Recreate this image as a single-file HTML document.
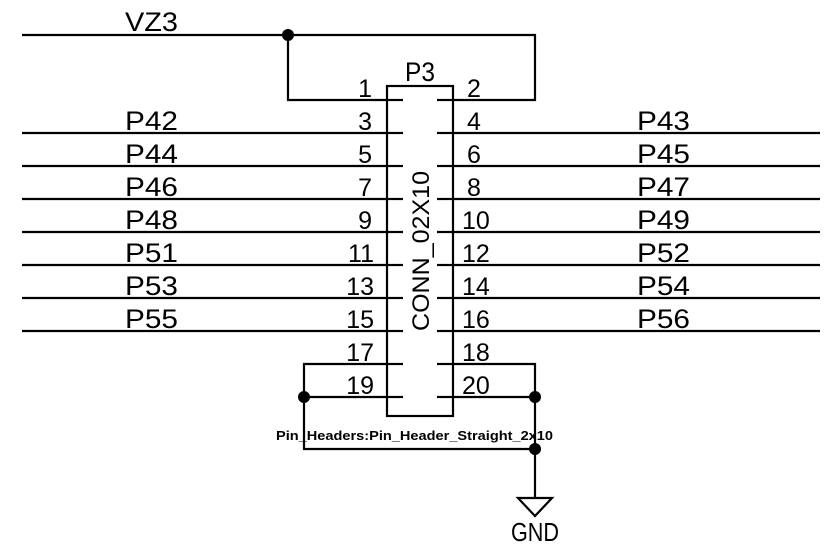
<!DOCTYPE html>
<html><head><style>html,body{margin:0;padding:0;background:#fff;}svg{display:block}</style></head>
<body>
<svg width="840" height="553" viewBox="0 0 840 553" xmlns="http://www.w3.org/2000/svg" font-family="Liberation Sans, sans-serif" fill="#000">
<g stroke="#000" stroke-width="2.2" fill="none">
<rect x="387" y="86" width="66" height="330"/>
<polyline points="22,35 535,35 535,100 453,100"/>
<polyline points="288,35 288,100 387,100"/>
<line x1="22" y1="133" x2="387" y2="133"/><line x1="453" y1="133" x2="820" y2="133"/>
<line x1="22" y1="166" x2="387" y2="166"/><line x1="453" y1="166" x2="820" y2="166"/>
<line x1="22" y1="199" x2="387" y2="199"/><line x1="453" y1="199" x2="820" y2="199"/>
<line x1="22" y1="232" x2="387" y2="232"/><line x1="453" y1="232" x2="820" y2="232"/>
<line x1="22" y1="265" x2="387" y2="265"/><line x1="453" y1="265" x2="820" y2="265"/>
<line x1="22" y1="298" x2="387" y2="298"/><line x1="453" y1="298" x2="820" y2="298"/>
<line x1="22" y1="331" x2="387" y2="331"/><line x1="453" y1="331" x2="820" y2="331"/>
<polyline points="387,364 304,364 304,449 535,449"/>
<line x1="304" y1="397" x2="387" y2="397"/>
<polyline points="453,364 535,364 535,498"/>
<line x1="453" y1="397" x2="535" y2="397"/>
<polygon points="518,498 552,498 535,516"/>
<g>
<line x1="387" y1="100" x2="403" y2="100"/><line x1="437" y1="100" x2="453" y2="100"/>
<line x1="387" y1="133" x2="403" y2="133"/><line x1="437" y1="133" x2="453" y2="133"/>
<line x1="387" y1="166" x2="403" y2="166"/><line x1="437" y1="166" x2="453" y2="166"/>
<line x1="387" y1="199" x2="403" y2="199"/><line x1="437" y1="199" x2="453" y2="199"/>
<line x1="387" y1="232" x2="403" y2="232"/><line x1="437" y1="232" x2="453" y2="232"/>
<line x1="387" y1="265" x2="403" y2="265"/><line x1="437" y1="265" x2="453" y2="265"/>
<line x1="387" y1="298" x2="403" y2="298"/><line x1="437" y1="298" x2="453" y2="298"/>
<line x1="387" y1="331" x2="403" y2="331"/><line x1="437" y1="331" x2="453" y2="331"/>
<line x1="387" y1="364" x2="403" y2="364"/><line x1="437" y1="364" x2="453" y2="364"/>
<line x1="387" y1="397" x2="403" y2="397"/><line x1="437" y1="397" x2="453" y2="397"/>
</g>
</g>
<circle cx="288" cy="35" r="6"/><circle cx="304" cy="397" r="6"/><circle cx="535" cy="397" r="6"/><circle cx="535" cy="449" r="6"/>
<g font-size="27">
<text x="125" y="31" textLength="53" lengthAdjust="spacingAndGlyphs">VZ3</text>
<text x="405" y="81" textLength="30" lengthAdjust="spacingAndGlyphs">P3</text>
<text x="125" y="130" textLength="53" lengthAdjust="spacingAndGlyphs">P42</text>
<text x="125" y="163" textLength="53" lengthAdjust="spacingAndGlyphs">P44</text>
<text x="125" y="196" textLength="53" lengthAdjust="spacingAndGlyphs">P46</text>
<text x="125" y="229" textLength="53" lengthAdjust="spacingAndGlyphs">P48</text>
<text x="125" y="262" textLength="53" lengthAdjust="spacingAndGlyphs">P51</text>
<text x="125" y="295" textLength="53" lengthAdjust="spacingAndGlyphs">P53</text>
<text x="125" y="328" textLength="53" lengthAdjust="spacingAndGlyphs">P55</text>
<text x="637" y="130" textLength="53" lengthAdjust="spacingAndGlyphs">P43</text>
<text x="637" y="163" textLength="53" lengthAdjust="spacingAndGlyphs">P45</text>
<text x="637" y="196" textLength="53" lengthAdjust="spacingAndGlyphs">P47</text>
<text x="637" y="229" textLength="53" lengthAdjust="spacingAndGlyphs">P49</text>
<text x="637" y="262" textLength="53" lengthAdjust="spacingAndGlyphs">P52</text>
<text x="637" y="295" textLength="53" lengthAdjust="spacingAndGlyphs">P54</text>
<text x="637" y="328" textLength="53" lengthAdjust="spacingAndGlyphs">P56</text>
</g>
<g font-size="25" text-anchor="end">
<text x="372" y="97">1</text><text x="372" y="130">3</text><text x="372" y="163">5</text><text x="372" y="196">7</text><text x="372" y="229">9</text>
<text x="374" y="262">11</text><text x="374" y="295">13</text><text x="374" y="328">15</text><text x="374" y="361">17</text><text x="374" y="394">19</text>
</g>
<g font-size="25">
<text x="467" y="97">2</text><text x="467" y="130">4</text><text x="467" y="163">6</text><text x="467" y="196">8</text>
<text x="462" y="229">10</text><text x="462" y="262">12</text><text x="462" y="295">14</text><text x="462" y="328">16</text><text x="462" y="361">18</text><text x="462" y="394">20</text>
</g>
<text transform="translate(429,331) rotate(-90)" font-size="24" textLength="160" lengthAdjust="spacingAndGlyphs">CONN_02X10</text>
<text x="276" y="440" font-size="13" font-weight="bold" textLength="277" lengthAdjust="spacingAndGlyphs">Pin_Headers:Pin_Header_Straight_2x10</text>
<text x="511" y="541" font-size="26" textLength="48" lengthAdjust="spacingAndGlyphs">GND</text>
</svg>
</body></html>
